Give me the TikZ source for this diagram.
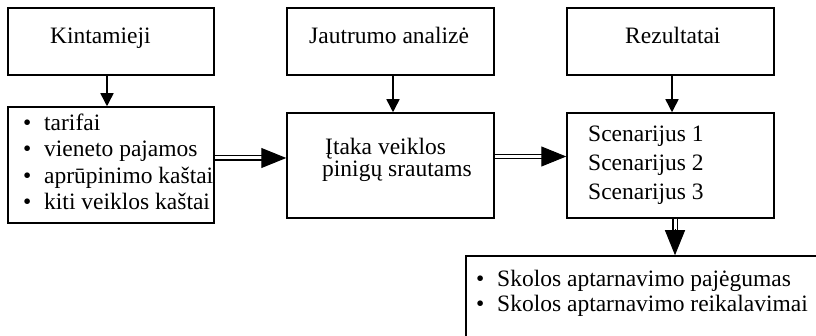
\documentclass[tikz,border=0pt]{standalone}
\usepackage{fontspec}
\setmainfont{Liberation Serif}
\usetikzlibrary{arrows.meta}
\begin{document}
\begin{tikzpicture}[x=1pt,y=-1pt,
  box/.style={draw, line width=1.5pt, inner sep=0pt},
  txt/.style={anchor=base west, inner sep=0pt, font=\fontsize{23.5}{28}\selectfont},
  arr/.style={line width=1.5pt, -{Triangle[length=13pt,width=13pt]}},
  dbl/.style={double, double distance=3pt, line width=1.3pt},
  bigtip/.style={-{Triangle[length=25pt,width=20pt]}, line width=1pt}]
\useasboundingbox (0,0) rectangle (816,336);
\clip (0,0) rectangle (816,336);
% boxes
\node[box, minimum width=206pt, minimum height=67pt] (kin) at (111,41.5) {};
\node[box, minimum width=207pt, minimum height=67pt] (jau) at (390.5,41.5) {};
\node[box, minimum width=207pt, minimum height=67pt] (rez) at (670.5,41.5) {};
\node[box, minimum width=206pt, minimum height=116pt] (list) at (111,165) {};
\node[box, minimum width=207pt, minimum height=105pt] (itk) at (390.5,165.5) {};
\node[box, minimum width=207pt, minimum height=105pt] (scn) at (670.5,165.5) {};
\node[box, minimum width=400pt, minimum height=120pt] (bot) at (666,316) {};
% titles
\node[txt] (t1) at (50,43.5) {Kintamieji};
\node[txt] (t2) at (309,43.5) {Jautrumo analizė};
\node[txt] (t3) at (625,43.5) {Rezultatai};
% list
\node[txt] (b1) at (23,131) {•};
\node[txt] (l1) at (44,131) {tarifai};
\node[txt] (b2) at (23,157) {•};
\node[txt] (l2) at (44,157) {vieneto pajamos};
\node[txt] (b3) at (23,183.5) {•};
\node[txt] (l3) at (44,183.5) {aprūpinimo kaštai};
\node[txt] (b4) at (23,210) {•};
\node[txt] (l4) at (44,210) {kiti veiklos kaštai};
% middle
\node[txt] (m1) at (325,154.5) {Įtaka veiklos};
\node[txt] (m2) at (322,177) {pinigų srautams};
% scenarios
\node[txt] (s1) at (588,142) {Scenarijus 1};
\node[txt] (s2) at (588,171) {Scenarijus 2};
\node[txt] (s3) at (588,199.5) {Scenarijus 3};
% bottom
\node[txt] (c1) at (476,287) {•};
\node[txt] (r1) at (497,287) {Skolos aptarnavimo pajėgumas};
\node[txt] (c2) at (476,312) {•};
\node[txt] (r2) at (497,312) {Skolos aptarnavimo reikalavimai};
% single arrows
\draw[arr] ([xshift=-4pt]kin.south) -- ([xshift=-4pt]kin.south |- list.north);
\draw[arr] ([xshift=2.5pt]jau.south) -- ([xshift=2.5pt]jau.south |- itk.north);
\draw[arr] ([xshift=1.5pt]rez.south) -- ([xshift=1.5pt]rez.south |- scn.north);
% double arrows
\coordinate (d1) at (0,158);
\coordinate (d2) at (0,156.5);
\coordinate (d3) at (675,0);
\draw[dbl] (list.east |- d1) -- ([xshift=-20pt]itk.west |- d1);
\draw[bigtip] ([xshift=-24pt]itk.west |- d1) -- (itk.west |- d1);
\draw[dbl] (itk.east |- d2) -- ([xshift=-20pt]scn.west |- d2);
\draw[bigtip] ([xshift=-24pt]scn.west |- d2) -- (scn.west |- d2);
\draw[dbl] (scn.south -| d3) -- ([yshift=20pt]bot.north -| d3);
\draw[bigtip] ([yshift=26pt]bot.north -| d3) -- (bot.north -| d3);
\end{tikzpicture}
\end{document}
